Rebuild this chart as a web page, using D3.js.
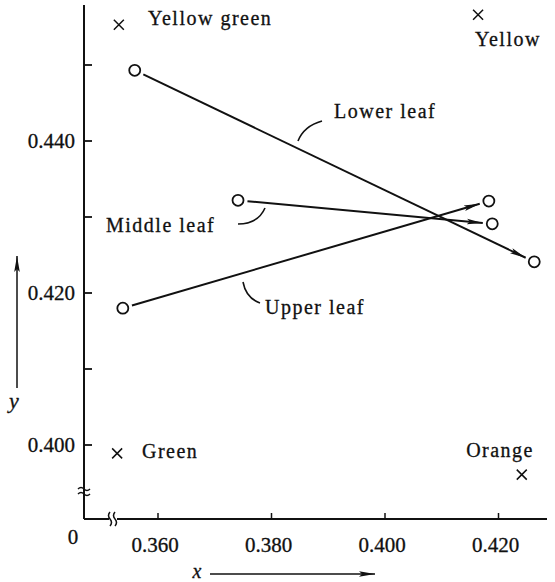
<!DOCTYPE html>
<html><head><meta charset="utf-8">
<script src="https://cdn.jsdelivr.net/npm/d3@7"></script>
<style>body{margin:0;background:#fff}svg text{font-family:"Liberation Serif","Times New Roman",serif;fill:#111;stroke:#111;stroke-width:0.3}</style>
</head><body><svg id="c" width="555" height="582"></svg>
<script>
// ---- data ----
const leaves = ["Lower leaf", "Middle leaf", "Upper leaf"];
const startX = [0.3559, 0.3741, 0.3538];
const startY = [0.4493, 0.4322, 0.4180];
const endX   = [0.4263, 0.4189, 0.4183];
const endY   = [0.4241, 0.4291, 0.4321];
const colors = ["Yellow green", "Yellow", "Green", "Orange"];
const colorX = [0.3531, 0.4164, 0.3528, 0.4241];
const colorY = [0.4553, 0.4566, 0.3989, 0.3961];
const xTicks = [0.360, 0.380, 0.400, 0.420];
const yMajor = [0.400, 0.420, 0.440];
const yMinor = [0.410, 0.430, 0.450];

const svg = d3.select("#c");
const x = d3.scaleLinear().domain([0.36, 0.42]).range([158, 498.5]);
const y = d3.scaleLinear().domain([0.40, 0.44]).range([445, 141]);
const X0 = 84, Y0 = 519;

const defs = svg.append("defs");
defs.append("marker").attr("id","ah").attr("markerUnits","userSpaceOnUse")
  .attr("viewBox","0 0 16 8").attr("refX",16).attr("refY",4)
  .attr("markerWidth",16).attr("markerHeight",8).attr("orient","auto")
  .append("path").attr("d","M0,1.2 L16,4 L0,6.8 L3,4 Z").attr("fill","#111");

const ax = svg.append("g").attr("stroke","#111").attr("fill","none");
// y axis
ax.append("line").attr("x1",X0).attr("x2",X0).attr("y1",5).attr("y2",Y0).attr("stroke-width",2);
// x axis
ax.append("line").attr("x1",X0).attr("x2",109).attr("y1",Y0).attr("y2",Y0).attr("stroke-width",2);
ax.append("line").attr("x1",117).attr("x2",547).attr("y1",Y0).attr("y2",Y0).attr("stroke-width",1.8);
// break marks
ax.append("path").attr("d","M78,489 q3,-3 6,0 t6,0 M78,494 q3,-3 6,0 t6,0").attr("stroke-width",1.5);
ax.append("path").attr("d","M110,512 q-3,3.5 0,7 t0,7 M115,512 q-3,3.5 0,7 t0,7").attr("stroke-width",1.5);
// y ticks
ax.selectAll(".ytm").data(yMajor.concat(yMinor)).join("line")
  .attr("x1",X0).attr("x2",X0+8).attr("y1",d=>y(d)).attr("y2",d=>y(d)).attr("stroke-width",1.8);
// x ticks
ax.selectAll(".xt").data(xTicks).join("line")
  .attr("x1",d=>x(d)).attr("x2",d=>x(d)).attr("y1",Y0).attr("y2",Y0-6).attr("stroke-width",1.5);

const fmt = d3.format(".3f");
svg.selectAll(".yl").data(yMajor).join("text")
  .attr("x",75).attr("y",d=>y(d)+7).attr("text-anchor","end").attr("font-size",21).text(fmt);
svg.selectAll(".xl").data(xTicks).join("text")
  .attr("x",d=>x(d)-3).attr("y",552).attr("text-anchor","middle").attr("font-size",21).text(fmt);
svg.append("text").attr("x",73).attr("y",544).attr("text-anchor","middle").attr("font-size",21).text("0");

// axis names with arrows
svg.append("text").attr("x",197).attr("y",578).attr("text-anchor","middle").attr("font-size",20)
  .attr("font-style","italic").text("x");
svg.append("line").attr("x1",210).attr("x2",375).attr("y1",574).attr("y2",574)
  .attr("stroke","#111").attr("stroke-width",1.5).attr("marker-end","url(#ah)");
svg.append("text").attr("x",14).attr("y",408).attr("text-anchor","middle").attr("font-size",22)
  .attr("font-style","italic").text("y");
svg.append("line").attr("x1",17).attr("x2",17).attr("y1",388).attr("y2",256)
  .attr("stroke","#111").attr("stroke-width",1.5).attr("marker-end","url(#ah)");

// leaf arrows
const R = 5.5;
leaves.forEach((name,i)=>{
  const x1=x(startX[i]), y1=y(startY[i]), x2=x(endX[i]), y2=y(endY[i]);
  const dx=x2-x1, dy=y2-y1, L=Math.hypot(dx,dy), ux=dx/L, uy=dy/L;
  svg.append("line").attr("x1",x1+ux*(R+4)).attr("y1",y1+uy*(R+4))
    .attr("x2",x2-ux*(R+4)).attr("y2",y2-uy*(R+4))
    .attr("stroke","#111").attr("stroke-width",2).attr("marker-end","url(#ah)");
  [[x1,y1],[x2,y2]].forEach(p=>svg.append("circle").attr("cx",p[0]).attr("cy",p[1]).attr("r",R)
    .attr("fill","#fff").attr("stroke","#111").attr("stroke-width",1.8));
});

// leaf labels + leaders
const lab = svg.append("g").attr("font-size",20).attr("letter-spacing",1.5);
lab.append("text").attr("x",334).attr("y",118).text("Lower leaf");
lab.append("text").attr("x",106).attr("y",232).text("Middle leaf");
lab.append("text").attr("x",265).attr("y",314).text("Upper leaf");
const ld = svg.append("g").attr("stroke","#111").attr("fill","none").attr("stroke-width",1.6);
ld.append("path").attr("d","M322,121 Q304,126 298,141");
ld.append("path").attr("d","M238,224 Q258,224 265,208");
ld.append("path").attr("d","M260,303 Q246,298 243,282");

// colour points
const cross = (cx,cy)=>`M${cx-5},${cy-5}L${cx+5},${cy+5}M${cx+5},${cy-5}L${cx-5},${cy+5}`;
svg.selectAll(".cr").data(colors).join("path")
  .attr("d",(d,i)=>cross(x(colorX[i]),y(colorY[i]))).attr("stroke","#111").attr("stroke-width",1.5);
const cl = svg.append("g").attr("font-size",20).attr("letter-spacing",1.5);
cl.append("text").attr("x",148).attr("y",25).text("Yellow green");
cl.append("text").attr("x",475).attr("y",46).text("Yellow");
cl.append("text").attr("x",142).attr("y",458).text("Green");
cl.append("text").attr("x",534).attr("y",457).attr("text-anchor","end").text("Orange");
</script></body></html>
